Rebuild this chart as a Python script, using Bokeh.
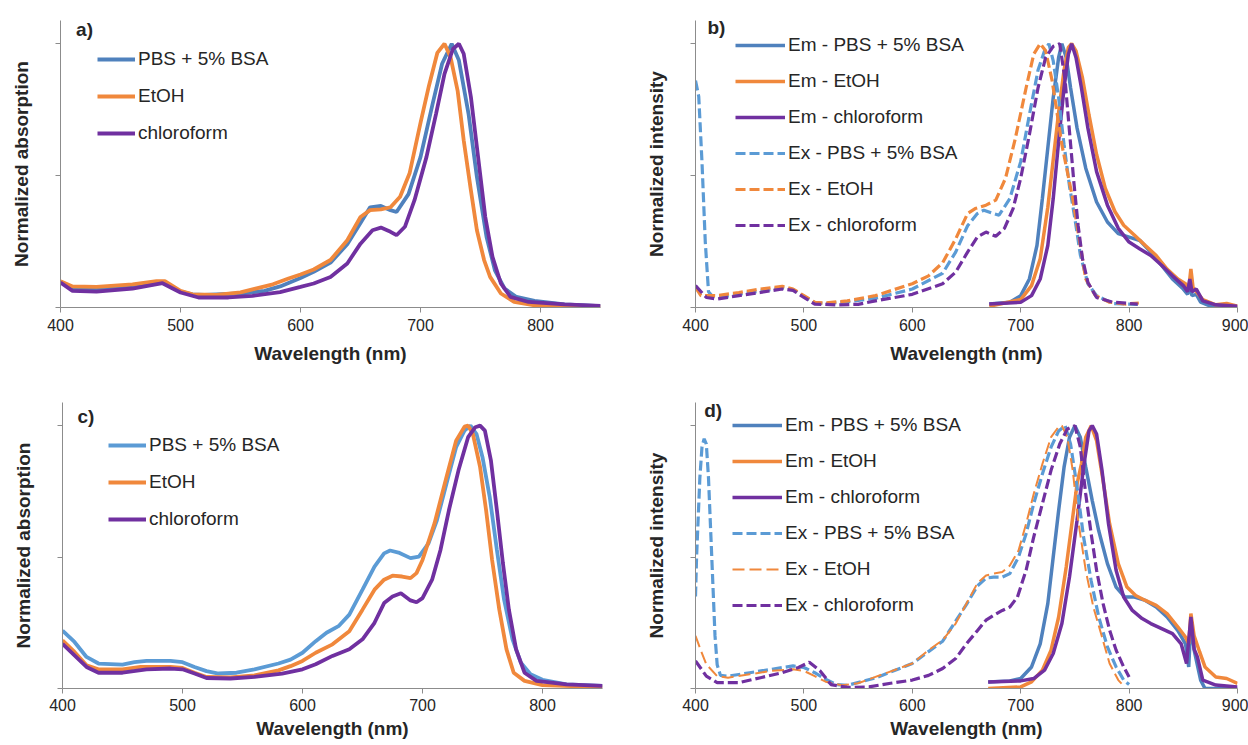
from bokeh.plotting import figure
from bokeh.models import Range1d, FixedTicker, Legend, LegendItem, Label
from bokeh.layouts import row, column
from bokeh.embed import file_html
from bokeh.resources import INLINE

# ---------------- data ----------------
# panel a) absorption, dye 1
a_pbs_wl = [400, 410, 420, 440, 460, 480, 487, 500, 510, 520, 550, 570, 583, 600, 611, 625, 639, 650, 658, 667, 675, 680, 690, 700, 710, 718, 726, 732, 740, 747, 755, 762, 770, 780, 795, 820, 850]
a_pbs_y = [0.098, 0.072, 0.068, 0.072, 0.080, 0.092, 0.095, 0.060, 0.050, 0.048, 0.053, 0.063, 0.080, 0.112, 0.135, 0.170, 0.240, 0.320, 0.380, 0.385, 0.369, 0.362, 0.430, 0.570, 0.770, 0.924, 1.000, 0.937, 0.735, 0.495, 0.268, 0.141, 0.072, 0.040, 0.025, 0.012, 0.005]
a_etoh_wl = [400, 410, 430, 460, 480, 487, 500, 510, 530, 550, 577, 590, 600, 611, 625, 639, 650, 658, 667, 675, 683, 691, 700, 707, 714, 720, 725, 731, 736, 742, 747, 753, 758, 767, 778, 794, 820, 850]
a_etoh_y = [0.100, 0.080, 0.078, 0.088, 0.100, 0.100, 0.063, 0.050, 0.048, 0.057, 0.088, 0.110, 0.125, 0.144, 0.180, 0.255, 0.343, 0.369, 0.372, 0.380, 0.420, 0.510, 0.700, 0.840, 0.965, 1.000, 0.950, 0.820, 0.634, 0.444, 0.293, 0.180, 0.116, 0.053, 0.021, 0.009, 0.004, 0.003]
a_chl_wl = [400, 410, 430, 460, 485, 500, 515, 540, 560, 583, 600, 611, 625, 639, 650, 660, 667, 675, 680, 687, 695, 705, 713, 720, 727, 732, 736, 742, 748, 754, 760, 767, 775, 790, 820, 850]
a_chl_y = [0.095, 0.063, 0.060, 0.072, 0.092, 0.057, 0.038, 0.038, 0.044, 0.058, 0.078, 0.091, 0.116, 0.167, 0.242, 0.293, 0.303, 0.287, 0.274, 0.306, 0.407, 0.571, 0.735, 0.886, 0.980, 1.000, 0.962, 0.798, 0.571, 0.343, 0.192, 0.091, 0.040, 0.021, 0.012, 0.006]

# panel b) emission / excitation, dye 1
b_em_pbs_wl = [671, 690, 700, 708, 715, 720, 725, 730, 735, 738, 742, 746, 752, 760, 770, 780, 790, 800, 810, 820, 830, 840, 850, 854, 856, 858, 862, 866, 875, 890, 900]
b_em_pbs_y = [0.013, 0.020, 0.045, 0.108, 0.235, 0.413, 0.604, 0.795, 0.948, 1.000, 0.948, 0.833, 0.680, 0.528, 0.400, 0.324, 0.280, 0.267, 0.254, 0.210, 0.160, 0.108, 0.070, 0.050, 0.083, 0.045, 0.050, 0.020, 0.005, 0.010, 0.000]
b_em_etoh_wl = [671, 700, 710, 718, 725, 730, 735, 740, 744, 747, 751, 757, 763, 770, 778, 787, 795, 805, 815, 825, 835, 845, 852, 855, 857, 859, 868, 880, 890, 900]
b_em_etoh_y = [0.005, 0.030, 0.083, 0.185, 0.380, 0.560, 0.740, 0.900, 0.986, 1.000, 0.973, 0.870, 0.730, 0.580, 0.452, 0.363, 0.312, 0.274, 0.235, 0.197, 0.146, 0.108, 0.090, 0.070, 0.146, 0.075, 0.030, 0.010, 0.015, 0.005]
b_em_chl_wl = [671, 700, 710, 718, 725, 730, 735, 740, 744, 747, 751, 756, 762, 770, 780, 790, 800, 810, 820, 830, 840, 850, 854, 856, 858, 862, 868, 880, 900]
b_em_chl_y = [0.013, 0.020, 0.045, 0.108, 0.235, 0.413, 0.630, 0.833, 0.960, 1.000, 0.948, 0.833, 0.680, 0.515, 0.388, 0.300, 0.248, 0.222, 0.197, 0.160, 0.120, 0.083, 0.060, 0.108, 0.060, 0.070, 0.025, 0.010, 0.005]
b_ex_pbs_wl = [400, 403, 406, 409, 412, 415, 425, 440, 460, 480, 490, 500, 510, 520, 540, 566, 600, 628, 640, 651, 660, 666, 675, 680, 690, 700, 708, 716, 722, 726, 730, 735, 740, 745, 750, 755, 762, 770, 785, 808]
b_ex_pbs_y = [0.860, 0.800, 0.550, 0.250, 0.060, 0.045, 0.040, 0.050, 0.062, 0.075, 0.068, 0.042, 0.018, 0.015, 0.022, 0.035, 0.070, 0.130, 0.210, 0.310, 0.356, 0.369, 0.356, 0.350, 0.413, 0.553, 0.730, 0.900, 0.973, 1.000, 0.935, 0.795, 0.617, 0.460, 0.337, 0.200, 0.090, 0.045, 0.015, 0.012]
b_ex_etoh_wl = [400, 405, 420, 440, 460, 480, 490, 500, 510, 520, 540, 566, 600, 615, 628, 640, 651, 658, 668, 677, 686, 695, 705, 712, 718, 723, 729, 738, 748, 754, 760, 769, 782, 797, 809]
b_ex_etoh_y = [0.076, 0.045, 0.045, 0.057, 0.070, 0.080, 0.070, 0.045, 0.020, 0.017, 0.025, 0.045, 0.090, 0.120, 0.170, 0.260, 0.356, 0.375, 0.388, 0.407, 0.490, 0.640, 0.833, 0.960, 1.000, 0.973, 0.860, 0.617, 0.413, 0.260, 0.108, 0.045, 0.020, 0.013, 0.017]
b_ex_chl_wl = [400, 410, 420, 440, 460, 480, 490, 500, 510, 530, 550, 566, 600, 628, 640, 651, 660, 668, 677, 685, 693, 700, 708, 716, 723, 730, 736, 741, 745, 749, 753, 757, 762, 770, 785, 808]
b_ex_chl_y = [0.083, 0.038, 0.032, 0.045, 0.057, 0.070, 0.065, 0.038, 0.013, 0.010, 0.012, 0.025, 0.050, 0.090, 0.134, 0.210, 0.267, 0.286, 0.270, 0.300, 0.375, 0.490, 0.655, 0.833, 0.948, 0.990, 1.000, 0.860, 0.668, 0.477, 0.310, 0.185, 0.095, 0.038, 0.020, 0.013]

# panel c) absorption, dye 2
c_pbs_wl = [400, 410, 420, 430, 450, 460, 470, 490, 500, 510, 520, 530, 545, 560, 580, 590, 600, 611, 620, 630, 639, 650, 660, 668, 673, 680, 690, 697, 705, 712, 720, 728, 735, 740, 745, 750, 756, 762, 768, 775, 782, 790, 800, 820, 850]
c_pbs_y = [0.220, 0.177, 0.120, 0.095, 0.091, 0.100, 0.105, 0.105, 0.100, 0.082, 0.066, 0.057, 0.060, 0.073, 0.095, 0.110, 0.136, 0.180, 0.212, 0.237, 0.281, 0.376, 0.464, 0.514, 0.525, 0.517, 0.496, 0.502, 0.552, 0.640, 0.780, 0.918, 0.981, 1.000, 0.968, 0.880, 0.729, 0.527, 0.338, 0.187, 0.098, 0.054, 0.033, 0.016, 0.010]
c_etoh_wl = [400, 410, 420, 430, 450, 465, 490, 500, 510, 520, 540, 560, 580, 590, 600, 611, 625, 639, 650, 660, 668, 675, 683, 690, 695, 700, 710, 720, 728, 735, 738, 742, 748, 753, 758, 764, 770, 776, 785, 800, 850]
c_etoh_y = [0.183, 0.139, 0.088, 0.073, 0.073, 0.082, 0.082, 0.078, 0.060, 0.044, 0.042, 0.050, 0.069, 0.085, 0.105, 0.136, 0.168, 0.218, 0.300, 0.376, 0.414, 0.429, 0.426, 0.420, 0.439, 0.489, 0.628, 0.805, 0.943, 0.996, 1.000, 0.968, 0.842, 0.678, 0.489, 0.300, 0.149, 0.060, 0.029, 0.013, 0.005]
c_chl_wl = [400, 410, 420, 430, 450, 470, 490, 500, 510, 520, 540, 560, 583, 600, 611, 625, 639, 650, 660, 668, 675, 682, 690, 695, 700, 708, 715, 722, 730, 738, 744, 748, 752, 757, 762, 767, 772, 778, 785, 795, 820, 850]
c_chl_y = [0.170, 0.126, 0.082, 0.060, 0.060, 0.073, 0.076, 0.073, 0.057, 0.040, 0.038, 0.044, 0.057, 0.073, 0.092, 0.124, 0.149, 0.187, 0.250, 0.325, 0.350, 0.362, 0.335, 0.328, 0.344, 0.414, 0.527, 0.678, 0.830, 0.956, 0.994, 1.000, 0.981, 0.868, 0.678, 0.477, 0.300, 0.149, 0.060, 0.029, 0.016, 0.010]

# panel d) emission / excitation, dye 2
d_em_pbs_wl = [670, 690, 700, 710, 718, 725, 730, 735, 740, 745, 750, 755, 760, 766, 772, 780, 788, 796, 805, 815, 825, 835, 845, 852, 855, 857, 860, 866, 870, 900]
d_em_pbs_y = [0.025, 0.029, 0.038, 0.082, 0.170, 0.323, 0.500, 0.677, 0.842, 0.956, 1.000, 0.956, 0.842, 0.715, 0.600, 0.475, 0.386, 0.348, 0.348, 0.335, 0.310, 0.272, 0.220, 0.170, 0.082, 0.250, 0.146, 0.032, 0.000, 0.000]
d_em_etoh_wl = [670, 700, 710, 720, 728, 735, 742, 748, 752, 756, 760, 765, 770, 776, 782, 790, 798, 806, 815, 825, 835, 845, 852, 855, 857, 860, 865, 870, 880, 890, 900]
d_em_etoh_y = [0.000, 0.006, 0.025, 0.070, 0.146, 0.272, 0.462, 0.652, 0.778, 0.854, 0.956, 1.000, 0.943, 0.790, 0.627, 0.475, 0.386, 0.354, 0.335, 0.316, 0.285, 0.234, 0.196, 0.170, 0.285, 0.200, 0.140, 0.082, 0.044, 0.038, 0.019]
d_em_chl_wl = [670, 700, 712, 722, 730, 738, 745, 752, 758, 763, 766, 770, 775, 781, 788, 795, 803, 812, 820, 830, 840, 848, 853, 857, 860, 863, 868, 880, 900]
d_em_chl_y = [0.025, 0.029, 0.038, 0.070, 0.133, 0.247, 0.424, 0.640, 0.842, 0.980, 1.000, 0.968, 0.830, 0.627, 0.450, 0.348, 0.297, 0.266, 0.247, 0.228, 0.209, 0.170, 0.095, 0.272, 0.150, 0.120, 0.032, 0.013, 0.006]
d_ex_pbs_wl = [400, 401, 402, 404, 406, 408, 410, 412, 414, 416, 418, 420, 423, 430, 450, 470, 490, 500, 510, 520, 530, 540, 566, 600, 628, 650, 660, 668, 675, 683, 690, 698, 705, 712, 720, 728, 735, 741, 746, 752, 758, 765, 772, 780, 788, 795, 800]
d_ex_pbs_y = [0.350, 0.500, 0.600, 0.800, 0.920, 0.950, 0.930, 0.800, 0.600, 0.400, 0.200, 0.090, 0.050, 0.047, 0.060, 0.073, 0.086, 0.080, 0.060, 0.035, 0.015, 0.012, 0.040, 0.095, 0.180, 0.320, 0.390, 0.420, 0.424, 0.424, 0.437, 0.500, 0.589, 0.703, 0.816, 0.918, 0.980, 1.000, 0.930, 0.766, 0.576, 0.410, 0.272, 0.158, 0.082, 0.032, 0.015]
d_ex_etoh_wl = [400, 405, 410, 420, 430, 450, 470, 490, 500, 510, 520, 535, 550, 566, 600, 615, 628, 640, 650, 660, 668, 675, 683, 690, 698, 705, 712, 720, 728, 735, 738, 743, 748, 753, 760, 767, 775, 782, 790, 795]
d_ex_etoh_y = [0.200, 0.144, 0.092, 0.047, 0.041, 0.054, 0.067, 0.073, 0.067, 0.047, 0.026, 0.012, 0.020, 0.044, 0.095, 0.146, 0.184, 0.247, 0.323, 0.400, 0.430, 0.437, 0.443, 0.468, 0.525, 0.627, 0.740, 0.854, 0.956, 0.996, 1.000, 0.956, 0.830, 0.640, 0.449, 0.310, 0.196, 0.095, 0.032, 0.010]
d_ex_chl_wl = [400, 410, 420, 440, 460, 480, 495, 505, 515, 525, 540, 560, 580, 600, 615, 628, 640, 650, 660, 668, 675, 683, 690, 697, 705, 712, 720, 728, 736, 743, 750, 755, 760, 765, 770, 776, 782, 788, 795, 800]
d_ex_chl_y = [0.105, 0.047, 0.022, 0.022, 0.041, 0.060, 0.080, 0.100, 0.067, 0.015, 0.004, 0.006, 0.020, 0.032, 0.050, 0.076, 0.114, 0.170, 0.220, 0.260, 0.278, 0.297, 0.310, 0.348, 0.450, 0.576, 0.703, 0.830, 0.930, 0.987, 1.000, 0.918, 0.740, 0.589, 0.450, 0.323, 0.222, 0.146, 0.082, 0.044]

abs_labels = ["PBS + 5% BSA", "EtOH", "chloroform"]
em_labels = ["Em - PBS + 5% BSA", "Em - EtOH", "Em - chloroform",
             "Ex - PBS + 5% BSA", "Ex - EtOH", "Ex - chloroform"]
x_ticks_abs = [400, 500, 600, 700, 800]
x_ticks_em = [400, 500, 600, 700, 800, 900]
y_ticks = [0, 0.5, 1.0]

# ---------------- style ----------------
BLUE = "#4F81BD"
LBLUE = "#5B9BD5"
ORANGE = "#F0883C"
PURPLE = "#7030A0"
FONT = "Liberation Sans"
AXIS_COL = "#8C8C8C"
TXT = "#262626"
YMAX = 1.088


def make_fig(width, height, xmax, xticks, ylabel, mbl, mbr, mbt, mbb, tstand, lstand):
    p = figure(width=width, height=height, x_range=Range1d(400, xmax),
               y_range=Range1d(0, YMAX), output_backend="svg",
               toolbar_location=None, min_border_left=mbl, min_border_right=mbr,
               min_border_top=mbt, min_border_bottom=mbb)
    p.grid.visible = False
    p.outline_line_color = None
    p.background_fill_color = "white"
    p.border_fill_color = "white"

    xa = p.xaxis[0]
    xa.ticker = FixedTicker(ticks=xticks)
    xa.axis_label = "Wavelength (nm)"
    xa.axis_label_text_font = FONT
    xa.axis_label_text_font_style = "bold"
    xa.axis_label_text_font_size = "19px"
    xa.axis_label_text_color = TXT
    xa.axis_label_standoff = lstand
    xa.major_label_text_font = FONT
    xa.major_label_text_font_size = "16px"
    xa.major_label_text_color = TXT
    xa.major_label_standoff = tstand
    xa.axis_line_color = AXIS_COL
    xa.major_tick_line_color = AXIS_COL
    xa.major_tick_out = 5
    xa.major_tick_in = 0
    xa.minor_tick_line_color = None

    ya = p.yaxis[0]
    ya.ticker = FixedTicker(ticks=y_ticks)
    ya.major_label_overrides = {0: "", 0.5: "", 1: ""}
    ya.major_label_standoff = 0
    ya.axis_label = ylabel
    ya.axis_label_text_font = FONT
    ya.axis_label_text_font_style = "bold"
    ya.axis_label_text_font_size = "19px"
    ya.axis_label_text_color = TXT
    ya.axis_label_standoff = 24
    ya.axis_line_color = AXIS_COL
    ya.major_tick_line_color = AXIS_COL
    ya.major_tick_out = 5
    ya.major_tick_in = 0
    ya.minor_tick_line_color = None
    return p


def add_legend(p, items, loc, glyph_w, spacing):
    lg = Legend(items=items, location=loc, label_text_font=FONT,
                label_text_font_size="19px", label_text_color=TXT,
                glyph_width=glyph_w, glyph_height=22, label_height=22,
                label_standoff=3, spacing=spacing, padding=0, margin=0,
                border_line_color=None, background_fill_alpha=0)
    p.add_layout(lg)


def add_tag(p, x, y, txt):
    p.add_layout(Label(x=x, y=y, text=txt, text_font=FONT, text_font_style="bold",
                       text_font_size="19px", text_color=TXT, text_baseline="middle",
                       text_align="left"))


# ---------- panel a ----------
pa = make_fig(640, 375, 850, x_ticks_abs, "Normalized absorption", 60, 40, 20, 66, 6, 9)
ra1 = pa.line(a_pbs_wl, a_pbs_y, line_color=BLUE, line_width=3.8)
ra2 = pa.line(a_etoh_wl, a_etoh_y, line_color=ORANGE, line_width=3.8)
ra3 = pa.line(a_chl_wl, a_chl_y, line_color=PURPLE, line_width=3.8)
add_legend(pa, [LegendItem(label=abs_labels[0], renderers=[ra1]),
                LegendItem(label=abs_labels[1], renderers=[ra2]),
                LegendItem(label=abs_labels[2], renderers=[ra3])], (37, 163), 38, 15)
add_tag(pa, 413, 1.053, "a)")

# ---------- panel b ----------
pb = make_fig(608, 375, 900, x_ticks_em, "Normalized intensity", 55, 11, 20, 68, 6, 9)
rb1 = pb.line(b_em_pbs_wl, b_em_pbs_y, line_color=BLUE, line_width=3.5)
rb2 = pb.line(b_em_etoh_wl, b_em_etoh_y, line_color=ORANGE, line_width=3.5)
rb3 = pb.line(b_em_chl_wl, b_em_chl_y, line_color=PURPLE, line_width=3.5)
rb4 = pb.line(b_ex_pbs_wl, b_ex_pbs_y, line_color=LBLUE, line_width=3.2, line_dash="10 4")
rb5 = pb.line(b_ex_etoh_wl, b_ex_etoh_y, line_color=ORANGE, line_width=3.2, line_dash="10 4")
rb6 = pb.line(b_ex_chl_wl, b_ex_chl_y, line_color=PURPLE, line_width=3.2, line_dash="10 4")
add_legend(pb, [LegendItem(label=em_labels[i], renderers=[r])
                for i, r in enumerate([rb1, rb2, rb3, rb4, rb5, rb6])], (40, 71), 50, 14)
add_tag(pb, 411, 1.061, "b)")

# ---------- panel c ----------
pc = make_fig(640, 370, 850, x_ticks_abs, "Normalized absorption", 62, 38, 27, 56, 5, 4)
rc1 = pc.line(c_pbs_wl, c_pbs_y, line_color=LBLUE, line_width=3.8)
rc2 = pc.line(c_etoh_wl, c_etoh_y, line_color=ORANGE, line_width=3.8)
rc3 = pc.line(c_chl_wl, c_chl_y, line_color=PURPLE, line_width=3.8)
add_legend(pc, [LegendItem(label=abs_labels[0], renderers=[rc1]),
                LegendItem(label=abs_labels[1], renderers=[rc2]),
                LegendItem(label=abs_labels[2], renderers=[rc3])], (46, 158), 38, 15)
add_tag(pc, 412.5, 1.034, "c)")

# ---------- panel d ----------
pd_ = make_fig(608, 370, 900, x_ticks_em, "Normalized intensity", 55, 11, 26, 57, 5, 4)
rd1 = pd_.line(d_em_pbs_wl, d_em_pbs_y, line_color=BLUE, line_width=3.5)
rd2 = pd_.line(d_em_etoh_wl, d_em_etoh_y, line_color=ORANGE, line_width=3.5)
rd3 = pd_.line(d_em_chl_wl, d_em_chl_y, line_color=PURPLE, line_width=3.5)
rd4 = pd_.line(d_ex_pbs_wl, d_ex_pbs_y, line_color=LBLUE, line_width=3.2, line_dash="10 4")
rd5 = pd_.line(d_ex_etoh_wl, d_ex_etoh_y, line_color=ORANGE, line_width=2, line_dash="12 5")
rd6 = pd_.line(d_ex_chl_wl, d_ex_chl_y, line_color=PURPLE, line_width=3.2, line_dash="10 4")
add_legend(pd_, [LegendItem(label=em_labels[i], renderers=[r])
                 for i, r in enumerate([rd1, rd2, rd3, rd4, rd5, rd6])], (37, 72), 50, 14)
add_tag(pd_, 408, 1.057, "d)")

layout = column(row(pa, pb), row(pc, pd_))
open("out.html", "w").write(file_html(layout, INLINE))
